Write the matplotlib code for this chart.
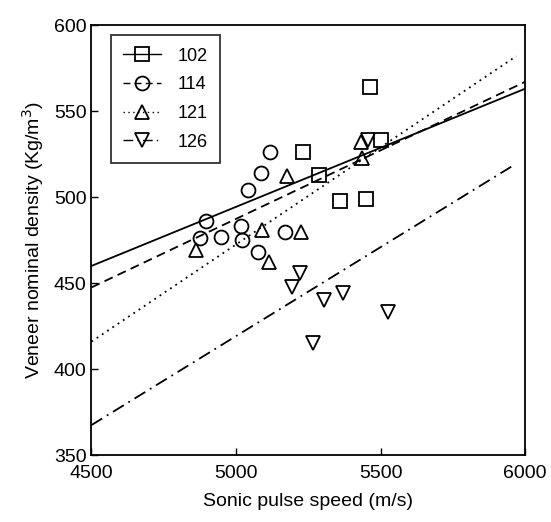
import matplotlib

matplotlib.use("Agg")
import matplotlib.pyplot as plt

plt.rcParams["font.family"] = ["Liberation Sans", "DejaVu Sans"]

# ---- data ----
x_102 = [5465, 5230, 5286, 5358, 5450, 5502]
y_102 = [564, 526, 513, 498, 499, 533]

x_114 = [5118, 5086, 5042, 4897, 4875, 4949, 5016, 5022, 5076, 5169]
y_114 = [526, 514, 504, 486, 476, 477, 483, 475, 468, 480]

x_121 = [4862, 5089, 5115, 5177, 5225, 5436, 5433]
y_121 = [469, 481, 462, 512, 480, 523, 532]

x_126 = [5221, 5195, 5303, 5369, 5525, 5265, 5456]
y_126 = [456, 448, 440, 444, 433, 415, 533]

# fitted lines (endpoints)
fit_x = [4500, 6000]
fit_102 = [460, 563]
fit_114 = [447.5, 567]
fit_121_x = [4500, 5970]
fit_121 = [416, 582]
fit_126_x = [4500, 5965]
fit_126 = [367.5, 519]

series = [
    ("102", x_102, y_102, fit_x, fit_102, "s", "-"),
    ("114", x_114, y_114, fit_x, fit_114, "o", (0, (5, 3))),
    ("121", x_121, y_121, fit_121_x, fit_121, "^", (0, (1, 2.5))),
    ("126", x_126, y_126, fit_126_x, fit_126, "v", (0, (7, 3, 1, 3))),
]

fig = plt.figure(figsize=(5.51, 5.22), dpi=100)
ax = fig.add_axes([0.166, 0.128, 0.787, 0.824])

for name, xs, ys, fx, fy, mk, ls in series:
    ax.plot(fx, fy, color="black", lw=1.3, ls=ls)
    ax.plot(xs, ys, ls="none", marker=mk, ms=10, mfc="none", mec="black", mew=1.3)
    # legend proxy: line with marker
    ax.plot([], [], color="black", lw=1.0, ls=ls, marker=mk, ms=10, mfc="none",
            mec="black", mew=1.3, label=name)

ax.set_xlim(4500, 6000)
ax.set_ylim(350, 600)
ax.set_xticks([4500, 5000, 5500, 6000])
ax.set_yticks([350, 400, 450, 500, 550, 600])
ax.tick_params(direction="in", labelsize=14, length=5, width=1.0)
ax.tick_params(axis="x", pad=7)
for s in ax.spines.values():
    s.set_linewidth(1.3)

ax.set_xlabel("Sonic pulse speed (m/s)", fontsize=14, labelpad=8)
ax.set_ylabel("Veneer nominal density (Kg/m$^3$)", fontsize=14, labelpad=6)

leg = ax.legend(loc="upper left", bbox_to_anchor=(0.044, 0.977), borderaxespad=0,
                fontsize=13, frameon=True, fancybox=False, edgecolor="black",
                handlelength=2.1, labelspacing=0.65, borderpad=0.7,
                handletextpad=0.9)
leg.get_frame().set_linewidth(1.3)

fig.savefig("out.png", dpi=100)
